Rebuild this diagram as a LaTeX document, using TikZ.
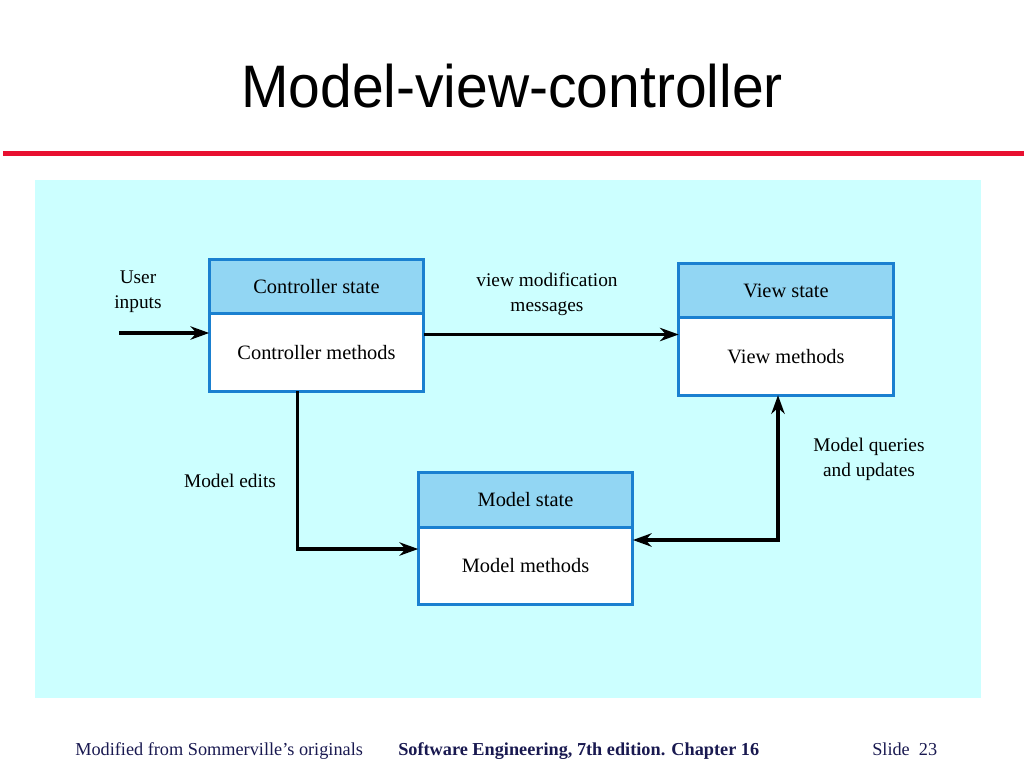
\documentclass[tikz,border=0pt]{standalone}
\usepackage{fontspec}
\setmainfont{Liberation Serif}
\newfontfamily\titlefont[FakeStretch=0.95]{Liberation Sans}
\usetikzlibrary{arrows.meta}
\usetikzlibrary{positioning}

\definecolor{panelCyan}{RGB}{204,255,255}
\definecolor{headBlue}{RGB}{146,214,243}
\definecolor{edgeBlue}{RGB}{26,128,208}
\definecolor{ruleRed}{RGB}{232,16,48}
\definecolor{footNavy}{RGB}{25,25,80}

\begin{document}
\begin{tikzpicture}[x=0.75pt,y=-0.75pt,
    stateBox/.style={draw=edgeBlue,line width=2.25pt,fill=headBlue,minimum width=161pt,minimum height=41pt,inner sep=0pt,outer sep=0pt,font=\fontsize{15.3}{18}\selectfont},
    methodBox/.style={stateBox,fill=white,minimum height=58pt},
    msgText/.style={align=center,font=\fontsize{14.5}{18.75}\selectfont},
    footText/.style={anchor=base west,inner sep=0pt,text=footNavy,font=\fontsize{13.7}{16}\selectfont},
    flow/.style={line width=2.4pt,-{Stealth[length=14pt,width=10pt,inset=4.5pt]}}]
          \useasboundingbox (0,0) rectangle (1024,768);
          \node[anchor=base,font=\titlefont\fontsize{45}{52}\selectfont] (title) at (512,107) {Model-view-controller};
          \draw[ruleRed,line width=3.75pt] (3,153) -- (1024,153);
          \fill[panelCyan] (35,180) rectangle (981,698);
          \node[stateBox] (controllerState) at (316.5,286.5) {Controller state};
          \node[methodBox,below=0pt of controllerState] (controllerMethods) {Controller methods};
          \node[stateBox] (viewState) at (786,290.5) {View state};
          \node[methodBox,below=0pt of viewState] (viewMethods) {View methods};
          \node[stateBox] (modelState) at (525.5,500) {Model state};
          \node[methodBox,below=0pt of modelState] (modelMethods) {Model methods};
          \node[msgText] (userInputs) at (138,292) {User\\inputs};
          \node[msgText] (modMessages) at (547,294) {view modification\\messages};
          \node[msgText] (modelEdits) at (230,481) {Model edits};
          \node[msgText] (queriesUpdates) at (869,459) {Model queries\\and updates};
          \coordinate (userStart) at (119,333);
          \draw[flow] (userStart) -- (userStart -| controllerMethods.west);
          \draw[flow] ([yshift=13.5pt]controllerMethods.east) -- ([yshift=13.5pt]controllerMethods.east -| viewMethods.west);
          \draw[flow] ([xshift=-14pt]controllerMethods.south) |- ([yshift=12.75pt]modelMethods.west);
          \draw[flow,{Stealth[length=14pt,width=10pt,inset=4.5pt]}-{Stealth[length=14pt,width=10pt,inset=4.5pt]}] ([yshift=19.5pt]modelMethods.east) -| ([xshift=-6pt]viewMethods.south);
          \node[footText] (footLeft) at (75,755) {Modified from Sommerville’s originals};
          \node[footText,font=\fontsize{13.7}{16}\selectfont\bfseries] (footMid) at (398,755) {Software Engineering, 7th edition. Chapter 16};
          \node[footText] (footRight) at (872,755) {Slide\ \ 23};
        \end{tikzpicture}
\end{document}
